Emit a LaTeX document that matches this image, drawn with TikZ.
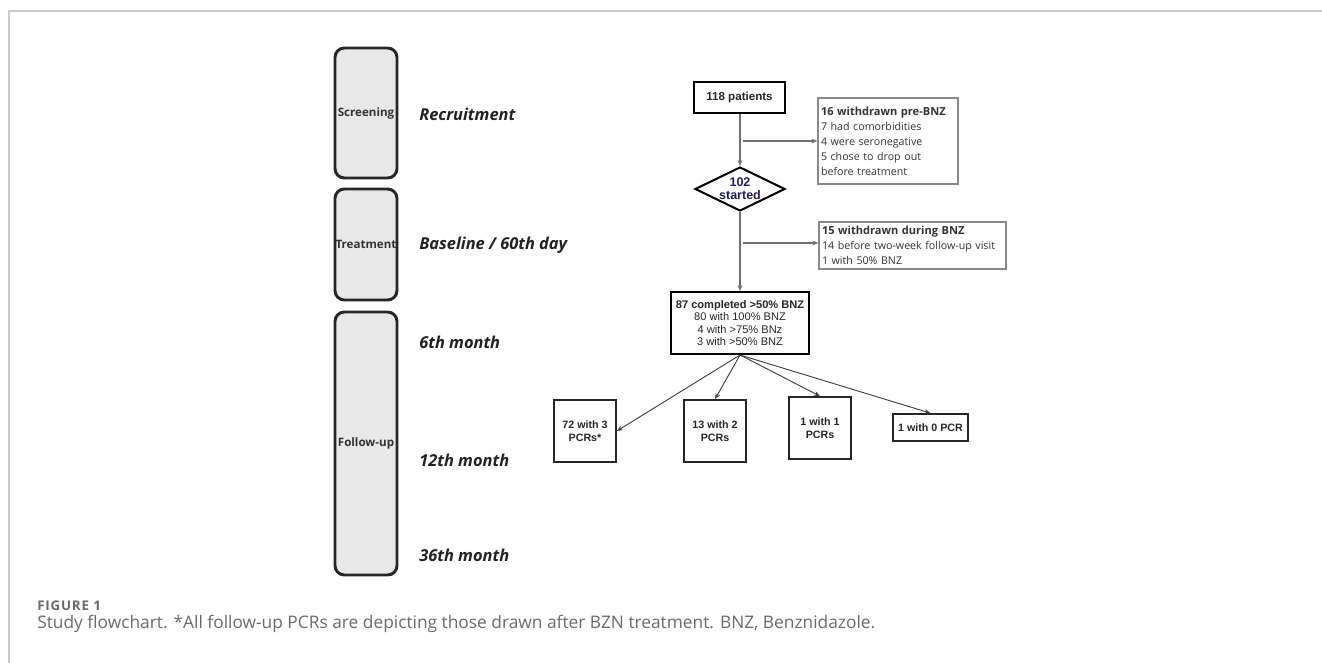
\documentclass[tikz,border=0pt]{standalone}
\usepackage{fontspec}
\setmainfont{Open Sans}
\newfontfamily\arialf{Liberation Sans}
\usetikzlibrary{shapes.geometric,arrows.meta}
\definecolor{navy}{HTML}{1F1F5C}
\definecolor{linegray}{HTML}{707070}
\definecolor{boxgray}{HTML}{8A8A8A}
\definecolor{capgray}{HTML}{6A6A6A}
\definecolor{framegray}{HTML}{CBCBCB}
\definecolor{phasefill}{HTML}{E8E8E8}
\begin{document}
\begin{tikzpicture}[x=0.75pt,y=-0.75pt,
  phase/.style={draw=black!85, line width=2.2pt, fill=phasefill, rounded corners=7pt,
    minimum width={62*0.75pt}, inner sep=0pt, text=black!80,
    font=\bfseries\fontsize{8.7}{10}\selectfont},
  stage/.style={anchor=west, inner sep=0pt, text=black!87,
    font=\bfseries\itshape\fontsize{12.3}{15}\selectfont},
  mainbox/.style={draw=black, inner sep=0pt, align=center, text=black!85,
    font=\arialf\fontsize{8.3}{9.4}\selectfont},
  sidebox/.style={draw=boxgray, line width=0.9pt, inner ysep=0pt, inner xsep={3*0.75pt},
    align=left, text=black!80, font=\fontsize{8}{11.25}\selectfont},
  sidehead/.style={font=\bfseries\fontsize{8.3}{11.25}\selectfont},
  pcr/.style={draw=black!85, line width=1.3pt, inner sep=0pt, align=center, text=black!85,
    font=\arialf\bfseries\fontsize{8}{9.5}\selectfont},
  varrow/.style={draw=linegray, line width=0.8pt, -{Stealth[length=4.5pt,width=3.6pt]}},
  darrow/.style={draw=black!75, line width=0.7pt, -{Stealth[length=4.5pt,width=3.6pt]}}
]
\useasboundingbox (0,0) rectangle (1322,663);
\draw[framegray, line width=0.8pt] (9,663) -- (9,11) -- (1322,11);

% phases
\node[phase, minimum height={130*0.75pt}] (scr) at (366,113) {Screening};
\node[phase, minimum height={111*0.75pt}] (trt) at (366,244.5) {Treatment};
\node[phase, minimum height={263*0.75pt}] (fu) at (366,443.5) {Follow-up};

% stage labels
\node[stage] (l1) at (419,114) {Recruitment};
\node[stage] (l2) at (419,245) {Baseline / 60th day};
\node[stage] (l3) at (419,342) {6th month};
\node[stage] (l4) at (419,460) {12th month};
\node[stage] (l5) at (419,555) {36th month};

% flow
\node[mainbox, line width=1.9pt, minimum width={91*0.75pt}, minimum height={31*0.75pt},
  font=\arialf\bfseries\fontsize{8.7}{9.4}\selectfont] (p118) at (739.5,97.5) {118 patients};
\node[sidebox, minimum width={140*0.75pt}, minimum height={86*0.75pt}, text width={134*0.75pt}]
  (w16) at (888,141) {{\bfseries\fontsize{8.3}{11.25}\selectfont 16 withdrawn pre-BNZ}\\7 had comorbidities\\4 were seronegative\\5 chose to drop out\\before treatment};
\node[diamond, draw=black, line width=1.5pt, aspect=2, inner sep=-4pt,
  minimum width={90*0.75pt}, minimum height={44*0.75pt}, align=center, text=navy,
  font=\arialf\bfseries\fontsize{9.4}{10}\selectfont] (d102) at (740,189) {102\\started};
\node[sidebox, minimum width={187*0.75pt}, minimum height={47*0.75pt}, text width={181*0.75pt}]
  (w15) at (912.5,245.5) {{\bfseries\fontsize{8.3}{11.25}\selectfont 15 withdrawn during BNZ}\\14 before two-week follow-up visit\\1 with 50\% BNZ};
\node[mainbox, line width=1.5pt, minimum width={138*0.75pt}, minimum height={62*0.75pt}]
  (c87) at (740,323) {\textbf{87 completed >50\% BNZ}\\80 with 100\% BNZ\\4 with >75\% BNz\\3 with >50\% BNZ};

\node[pcr, minimum width={62*0.75pt}, minimum height={62*0.75pt}] (b1) at (585,431) {72 with 3\\PCRs*};
\node[pcr, minimum width={62*0.75pt}, minimum height={62*0.75pt}] (b2) at (715,431) {13 with 2\\PCRs};
\node[pcr, minimum width={62*0.75pt}, minimum height={62*0.75pt}] (b3) at (820,428) {1 with 1\\PCRs};
\node[pcr, minimum width={75*0.75pt}, minimum height={27*0.75pt}] (b4) at (930.5,427.5) {1 with 0 PCR};

% connectors
\draw[varrow] (d102.north |- p118.south) -- (d102.north);
\coordinate (s1) at (743,141);
\draw[varrow] (s1) -- (s1 -| w16.west);
\draw[varrow] (d102.south) -- (c87.north);
\coordinate (s2) at (743,243);
\draw[varrow] (s2) -- (s2 -| w15.west);

\draw[darrow] (c87.south) -- (b1.east);
\draw[darrow] (c87.south) -- (b2.north);
\draw[darrow] (c87.south) -- (b3.north);
\draw[darrow] (c87.south) -- (b4.north);

% caption
\node[anchor=west, inner sep=0pt, text=capgray,
  font=\bfseries\fontsize{10}{12}\selectfont\addfontfeature{LetterSpace=6}]
  (fig) at (37,606) {FIGURE 1};
\node[anchor=west, inner sep=0pt, text=capgray, font=\fontsize{13}{15}\selectfont]
  (capt) at (37,624) {Study flowchart. *All follow-up PCRs are depicting those drawn after BZN treatment. BNZ, Benznidazole.};
\end{tikzpicture}
\end{document}
